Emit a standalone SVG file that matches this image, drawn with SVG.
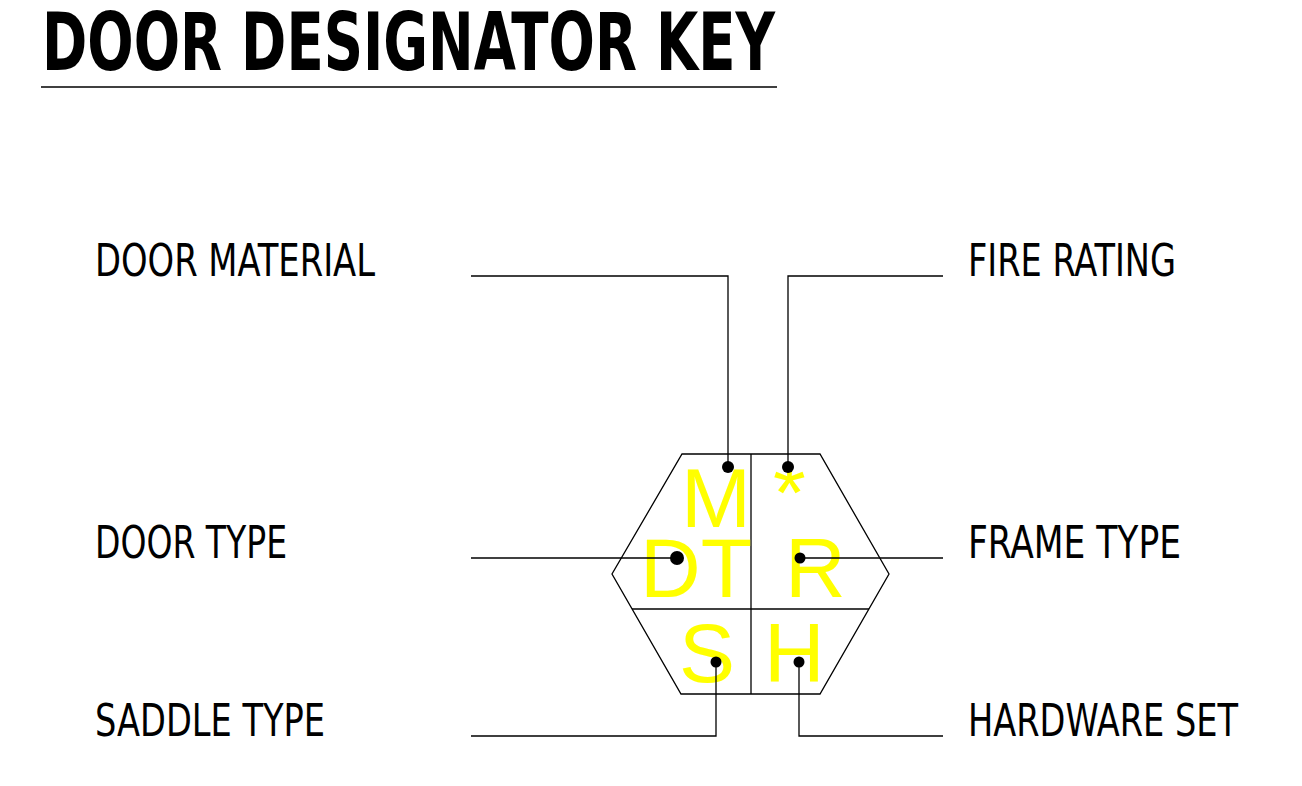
<svg xmlns="http://www.w3.org/2000/svg" width="1302" height="786" viewBox="0 0 1302 786">
<style>
.lbl{font-family:"Liberation Sans Narrow","DejaVu Sans Condensed","Liberation Sans",sans-serif;font-size:44px;fill:#000}
.ttl{font-family:"Liberation Sans Narrow","DejaVu Sans Condensed","Liberation Sans",sans-serif;font-size:80px;font-weight:bold;fill:#000}
.ylw{font-family:"Liberation Sans",Arial,sans-serif;font-size:84px;fill:#ffff00}
.ln{fill:none;stroke:#000;stroke-width:1.3}
.dot{fill:#000}
</style>
<rect width="1302" height="786" fill="#fff"/>
<g id="title">
<text class="ttl" x="42" y="70" textLength="733" lengthAdjust="spacingAndGlyphs">DOOR DESIGNATOR KEY</text>
<line class="ln" x1="41" y1="87" x2="777" y2="87"/>
</g>
<g id="hexagon">
<polygon class="ln" points="682,454 820,454 889,574 820,694 681,694 612,574"/>
<line class="ln" x1="751" y1="454" x2="751" y2="694"/>
<line class="ln" x1="632" y1="609" x2="869" y2="609"/>
<text class="ylw" x="681" y="527">M</text>
<text class="ylw" x="773" y="522" font-size="60">*</text>
<text class="ylw" x="640" y="597">DT</text>
<text class="ylw" x="785" y="597">R</text>
<text class="ylw" x="679" y="682">S</text>
<text class="ylw" x="764" y="682">H</text>
</g>
<g id="label-door-material"><text class="lbl" x="95" y="276" textLength="280" lengthAdjust="spacingAndGlyphs">DOOR MATERIAL</text></g>
<g id="label-door-type"><text class="lbl" x="95" y="558" textLength="192" lengthAdjust="spacingAndGlyphs">DOOR TYPE</text></g>
<g id="label-saddle-type"><text class="lbl" x="95" y="736" textLength="230" lengthAdjust="spacingAndGlyphs">SADDLE TYPE</text></g>
<g id="label-fire-rating"><text class="lbl" x="968" y="276" textLength="208" lengthAdjust="spacingAndGlyphs">FIRE RATING</text></g>
<g id="label-frame-type"><text class="lbl" x="968" y="558" textLength="213" lengthAdjust="spacingAndGlyphs">FRAME TYPE</text></g>
<g id="label-hardware-set"><text class="lbl" x="968" y="736" textLength="270" lengthAdjust="spacingAndGlyphs">HARDWARE SET</text></g>
<g id="connectors">
<polyline class="ln" points="471,276 728,276 728,467"/>
<polyline class="ln" points="943,276 788,276 788,467"/>
<polyline class="ln" points="471,558 677,558"/>
<polyline class="ln" points="943,558 800,558"/>
<polyline class="ln" points="471,736 716,736 716,662"/>
<polyline class="ln" points="943,736 799,736 799,662"/>
<circle class="dot" cx="728" cy="467" r="6"/>
<circle class="dot" cx="788" cy="467" r="6"/>
<circle class="dot" cx="677" cy="558" r="7"/>
<circle class="dot" cx="800" cy="558" r="5.5"/>
<circle class="dot" cx="716" cy="662" r="5.5"/>
<circle class="dot" cx="799" cy="662" r="5.5"/>
</g>
</svg>
